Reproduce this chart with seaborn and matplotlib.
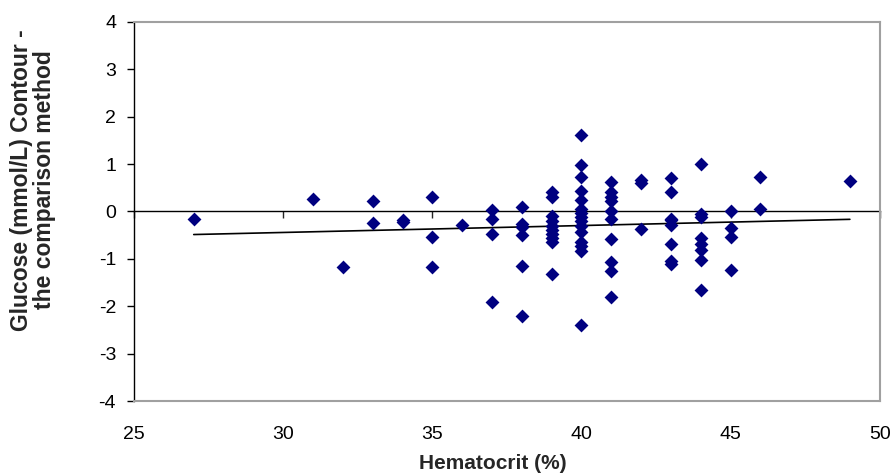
import matplotlib
matplotlib.use("Agg")
import matplotlib.pyplot as plt
import seaborn as sns
import pandas as pd
import numpy as np

sns.set_style("white")
plt.rcParams['font.family'] = ['Liberation Sans', 'DejaVu Sans']
plt.rcParams['axes.unicode_minus'] = False

# hematocrit (%) and glucose difference (mmol/L)
hct = [27, 31, 32, 33, 33, 34, 34,
       35, 35, 35, 36,
       37, 37, 37, 37,
       38, 38, 38, 38, 38, 38,
       39, 39, 39, 39, 39, 39, 39, 39, 39, 39,
       40, 40, 40, 40, 40, 40, 40, 40, 40, 40, 40, 40, 40, 40, 40,
       41, 41, 41, 41, 41, 41, 41, 41, 41, 41,
       42, 42, 42,
       43, 43, 43, 43, 43, 43, 43, 43,
       44, 44, 44, 44, 44, 44, 44, 44,
       45, 45, 45, 45,
       46, 46, 49]
diff = [-0.16, 0.27, -1.18, 0.23, -0.25, -0.18, -0.22,
        0.31, -0.54, -1.18, -0.28,
        0.02, -0.17, -0.47, -1.91,
        0.10, -0.27, -0.33, -0.50, -1.16, -2.20,
        0.40, 0.30, -0.10, -0.20, -0.30, -0.40, -0.48, -0.56, -0.65, -1.32,
        1.61, 0.97, 0.73, 0.43, 0.25, 0.06, -0.03, -0.12, -0.20, -0.31, -0.44, -0.65, -0.73, -0.83, -2.39,
        0.62, 0.41, 0.31, 0.22, 0.01, -0.17, -0.58, -1.07, -1.26, -1.81,
        0.66, 0.59, -0.38,
        0.71, 0.41, -0.16, -0.19, -0.28, -0.68, -1.05, -1.11,
        0.99, -0.06, -0.11, -0.56, -0.69, -0.81, -1.02, -1.65,
        0.01, -0.34, -0.53, -1.23,
        0.73, 0.05, 0.64]

x_ticks = [25, 30, 35, 40, 45, 50]
y_ticks = [-4, -3, -2, -1, 0, 1, 2, 3, 4]

df = pd.DataFrame({'Hematocrit': hct, 'Glucose': diff})

fig = plt.figure(figsize=(8.94, 4.74), dpi=100)
ax = fig.add_axes([0.150, 0.154, 0.834, 0.800])

sns.scatterplot(data=df, x='Hematocrit', y='Glucose', marker='D', s=50,
                color='#000080', linewidth=0, ax=ax, zorder=3)
sns.regplot(data=df, x='Hematocrit', y='Glucose', scatter=False, ci=None,
            color='black', line_kws={'linewidth': 1.2}, ax=ax)

ax.set_xlim(25, 50)
ax.set_ylim(-4, 4)
ax.set_xticks(x_ticks)
ax.set_yticks(y_ticks)
ax.set_xlabel('')
ax.set_ylabel('')

for side in ['top', 'right', 'bottom']:
    ax.spines[side].set_color('#a0a0a0')
    ax.spines[side].set_linewidth(1.5)
ax.spines['left'].set_color('black')
ax.spines['left'].set_linewidth(1.0)

ax.tick_params(axis='x', length=0, labelsize=14, pad=18, colors='black')
ax.tick_params(axis='y', direction='out', length=5, width=1, left=True,
               labelsize=14, pad=8, colors='black')

# x axis line crossing at y = 0 (ticks pointing down)
sec = ax.secondary_xaxis(0.49999)
sec.set_xticks(x_ticks)
sec.tick_params(direction='out', length=5, width=1, labelbottom=False, labeltop=False)
for sp in sec.spines.values():
    sp.set_color('black')
    sp.set_linewidth(1.0)

fig.text(493 / 894, 1 - 469 / 474, 'Hematocrit (%)', ha='center', va='baseline',
         fontsize=15, fontweight='bold')
fig.text(33 / 894, 1 - 180 / 474, 'Glucose (mmol/L) Contour -\nthe comparison method',
         rotation=90, ha='center', va='center', multialignment='center',
         fontsize=16.5, fontweight='bold', linespacing=1.0)

fig.savefig('out.png', dpi=100)
